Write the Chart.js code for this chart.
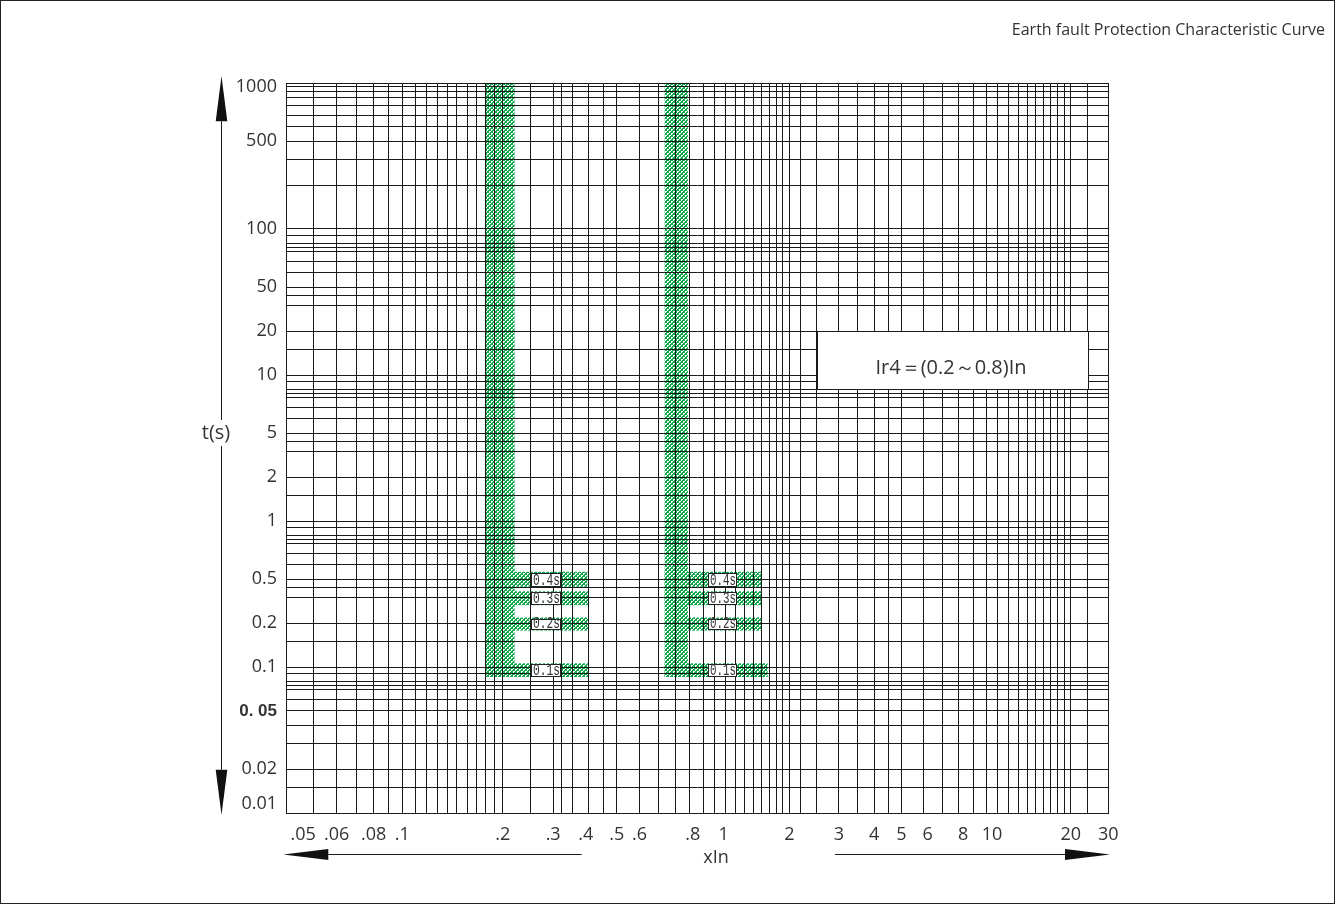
<!DOCTYPE html>
<html>
<head>
<meta charset="utf-8">
<script src="https://cdn.jsdelivr.net/npm/chart.js@4/dist/chart.umd.min.js"></script>
<style>
  html, body { margin: 0; padding: 0; background: #fff; }
  #wrap { position: relative; width: 1335px; height: 904px; }
  #frame { position: absolute; left: 0; top: 0; width: 1335px; height: 904px; box-sizing: border-box;
           border: 1px solid #222; pointer-events: none; }
  canvas { display: block; }
</style>
</head>
<body>
<div id="wrap"><canvas id="c" width="1335" height="904"></canvas><div id="frame"></div></div>
<script>
// ---------------- data ----------------
const xTickLabels   = ['.05', '.06', '.08', '.1', '.2', '.3', '.4', '.5', '.6', '.8', '1', '2', '3', '4', '5', '6', '8', '10', '20', '30'];
const xTickLabelAt  = [0.046, 0.06, 0.08, 0.1, 0.2, 0.3, 0.39, 0.5, 0.6, 0.92, 1.18, 2, 3, 4, 5, 6.2, 8.3, 10.5, 20, 30];
const xGridValues   = [0.04, 0.05, 0.06, 0.07, 0.08, 0.09, 0.1, 0.11, 0.12, 0.13, 0.14, 0.15, 0.16, 0.17, 0.18, 0.19,
                       0.2, 0.25, 0.3, 0.32, 0.35, 0.4, 0.45, 0.5, 0.6, 0.7, 0.8, 0.9,
                       1, 1.1, 1.2, 1.3, 1.4, 1.5, 1.6, 1.7, 1.8, 1.9,
                       2, 2.2, 2.5, 3, 3.5, 4, 4.5, 5, 6, 7, 8, 9,
                       10, 11, 12, 13, 14, 15, 16, 17, 18, 19, 20, 24, 30];
const yTickLabels   = ['1000', '500', '100', '50', '20', '10', '5', '2', '1', '0.5', '0.2', '0.1', '0. 05', '0.02', '0.01'];
const yTickLabelAt  = [940, 400, 100, 40, 20, 10, 4, 2, 1, 0.4, 0.2, 0.1, 0.05, 0.02, 0.0115];
const yBoldLabels   = ['0. 05'];
const yGridValues   = [0.01, 0.015, 0.02, 0.03, 0.04, 0.05, 0.06, 0.07, 0.075, 0.08, 0.09,
                       0.1, 0.15, 0.2, 0.3, 0.35, 0.4, 0.5, 0.6, 0.7, 0.75, 0.8, 0.9,
                       1, 1.5, 2, 3, 3.5, 4, 5, 6, 7, 7.5, 8, 9,
                       10, 15, 20, 30, 35, 40, 50, 60, 70, 75, 80, 90,
                       100, 200, 300, 400, 500, 600, 700, 800, 870, 940, 1000];

const bandCurrent       = [[0.18, 0.22], [0.735, 0.885]];          // Ir4 = 0.2 In and 0.8 In pickup bands (xIn)
const bandTimeMax       = 1000;                                     // s
const delayLabels       = ['0.4s', '0.3s', '0.2s', '0.1s'];
const delayTime         = [[0.355, 0.45], [0.265, 0.33], [0.178, 0.218], [0.0855, 0.106]];  // s
const delayCurrentEnd   = [[0.395, 0.4, 0.4, 0.4], [1.6, 1.6, 1.6, 1.68]];               // xIn
const delayLabelCurrent = [[0.252, 0.317], [1.04, 1.30]];                                  // xIn
const noteText    = 'Ir4＝(0.2～0.8)In';
const noteCurrent = [2.5, 24];
const noteTime    = [8, 20];
const chartTitle  = 'Earth fault Protection Characteristic Curve';
const xTitle = 'xIn';
const yTitle = 't(s)';

// ---------------- x scale calibration (the printed axis is not a uniform log scale) ----------------
const xAxisCalibration = {
  value: [0.04, 0.05, 0.1, 0.15, 0.2, 2, 20, 30],
  share: [0, 0.0332, 0.1414, 0.2076, 0.2635, 0.6121, 0.9543, 1]
};
function warp(v) {
  const V = xAxisCalibration.value, S = xAxisCalibration.share;
  let i = 0;
  while (i < V.length - 2 && v > V[i + 1]) i++;
  return S[i] + Math.log(v / V[i]) / Math.log(V[i + 1] / V[i]) * (S[i + 1] - S[i]);
}
function unwarp(d) {
  const V = xAxisCalibration.value, S = xAxisCalibration.share;
  let i = 0;
  while (i < S.length - 2 && d > S[i + 1]) i++;
  return V[i] * Math.pow(V[i + 1] / V[i], (d - S[i]) / (S[i + 1] - S[i]));
}
class WarpLogScale extends Chart.LogarithmicScale {
  getPixelForValue(value) {
    if (value === null || value === undefined || isNaN(value)) return NaN;
    return this.getPixelForDecimal(warp(value));
  }
  getValueForPixel(pixel) { return unwarp(this.getDecimalForPixel(pixel)); }
}
WarpLogScale.id = 'warpLog';
WarpLogScale.defaults = Chart.LogarithmicScale.defaults;
Chart.register(WarpLogScale);

function mergeTicks(gridVals, labelAt, labelText) {
  const m = new Map();
  gridVals.forEach(v => m.set(v, { value: v, grid: true, text: '' }));
  labelAt.forEach((v, i) => {
    const t = m.get(v) || { value: v, grid: false, text: '' };
    t.text = labelText[i];
    m.set(v, t);
  });
  return [...m.values()].sort((a, b) => a.value - b.value);
}

// ---------------- hatch pattern ----------------
const canvas = document.getElementById('c');
const ctx0 = canvas.getContext('2d');
function makeHatch() {
  const c = document.createElement('canvas');
  c.width = 4; c.height = 4;
  const g = c.getContext('2d');
  g.fillStyle = '#ffffff';
  g.fillRect(0, 0, 4, 4);
  g.fillStyle = '#0fa64c';
  [[0, 0], [1, 1], [2, 2], [3, 3], [3, 0], [2, 1], [1, 2], [0, 3], [2, 0], [0, 2]].forEach(([i, j]) => g.fillRect(i, j, 1, 1));
  return ctx0.createPattern(c, 'repeat');
}
const hatch = makeHatch();

function rect(x0, x1, t0, t1) {
  return {
    type: 'line',
    data: [{ x: x0, y: t0 }, { x: x1, y: t0 }, { x: x1, y: t1 }, { x: x0, y: t1 }, { x: x0, y: t0 }],
    fill: 'shape', backgroundColor: hatch, borderColor: 'rgba(0,0,0,0)', borderWidth: 0,
    pointRadius: 0, pointHoverRadius: 0, pointHitRadius: 0, tension: 0,
    xAxisID: 'x', yAxisID: 'y'
  };
}
const datasets = [];
bandCurrent.forEach((xr, b) => {
  datasets.push(rect(xr[0], xr[1], delayTime[delayTime.length - 1][0], bandTimeMax));
  delayTime.forEach((tr, k) => datasets.push(rect(xr[0], delayCurrentEnd[b][k], tr[0], tr[1])));
});

// ---------------- decorations ----------------
const TXT = '#333';
const LINE = '#1a1a1a';
const deco = {
  yArrowOffset: 65, yArrowTop: 6.7, yArrowBottom: 1.7, headLen: 45, headHalf: 5.8,
  xArrowDrop: 41, leftTipOffset: 2.7, leftArrowEnd: 295.7, rightArrowStart: 549, rightTipOffset: 1.7,
  yTitleOffsetX: 70, yTitleOffsetY: 350, xTitleOffsetX: 430, xTitleBaseline: 49.5
};
const annotate = {
  id: 'annotate',
  afterDraw(chart) {
    const { ctx, chartArea: a, scales: { x, y } } = chart;
    ctx.save();
    // note box
    const bx0 = Math.round(x.getPixelForValue(noteCurrent[0])) + 0.5;
    const bx1 = Math.round(x.getPixelForValue(noteCurrent[1])) + 0.5;
    const by0 = Math.round(y.getPixelForValue(noteTime[1])) + 0.5;
    const by1 = Math.round(y.getPixelForValue(noteTime[0])) + 0.5;
    ctx.fillStyle = '#fff';
    ctx.fillRect(bx0, by0, bx1 - bx0, by1 - by0);
    ctx.strokeStyle = LINE; ctx.lineWidth = 1;
    ctx.strokeRect(bx0, by0, bx1 - bx0, by1 - by0);
    ctx.fillStyle = TXT;
    ctx.font = '20px "Open Sans", sans-serif';
    ctx.textAlign = 'center'; ctx.textBaseline = 'alphabetic';
    ctx.fillText(noteText, (bx0 + bx1) / 2 - 2, (by0 + by1) / 2 + 13.5);

    // delay label boxes
    ctx.font = '16px "Liberation Mono", monospace';
    delayLabelCurrent.forEach((xr) => {
      const x0 = Math.round(x.getPixelForValue(xr[0])) + 0.5;
      const x1 = Math.round(x.getPixelForValue(xr[1])) + 0.5;
      delayTime.forEach((tr, k) => {
        const y0 = Math.round(y.getPixelForValue(tr[1])) + 1.5;
        const y1 = Math.round(y.getPixelForValue(tr[0])) - 0.5;
        ctx.fillStyle = '#fff';
        ctx.fillRect(x0, y0, x1 - x0, y1 - y0);
        ctx.strokeStyle = '#222'; ctx.lineWidth = 1;
        ctx.strokeRect(x0, y0, x1 - x0, y1 - y0);
        const txt = delayLabels[k];
        const w = ctx.measureText(txt).width;
        const sx = Math.min(1, (x1 - x0 - 2) / w);
        ctx.save();
        ctx.translate(x0 + 1.5, y1 - 1.5);
        ctx.scale(sx, 1);
        ctx.fillStyle = TXT; ctx.textAlign = 'left'; ctx.textBaseline = 'alphabetic';
        ctx.fillText(txt, 0, 0);
        ctx.restore();
      });
    });

    // y arrow
    const ax = a.left - deco.yArrowOffset + 0.5;
    const tTop = a.top - deco.yArrowTop, tBot = a.bottom + deco.yArrowBottom;
    ctx.strokeStyle = LINE; ctx.lineWidth = 1;
    ctx.beginPath(); ctx.moveTo(ax, tTop + deco.headLen); ctx.lineTo(ax, tBot - deco.headLen); ctx.stroke();
    ctx.fillStyle = '#111';
    ctx.beginPath(); ctx.moveTo(ax, tTop); ctx.lineTo(ax - deco.headHalf, tTop + deco.headLen); ctx.lineTo(ax + deco.headHalf, tTop + deco.headLen); ctx.closePath(); ctx.fill();
    ctx.beginPath(); ctx.moveTo(ax, tBot); ctx.lineTo(ax - deco.headHalf, tBot - deco.headLen); ctx.lineTo(ax + deco.headHalf, tBot - deco.headLen); ctx.closePath(); ctx.fill();
    // y title
    ctx.font = '20px "Open Sans", sans-serif';
    const ty = a.top + deco.yTitleOffsetY;
    const tx = a.left - deco.yTitleOffsetX;
    const tw = ctx.measureText(yTitle).width;
    ctx.fillStyle = '#fff';
    ctx.fillRect(tx - tw / 2 - 3, ty - 13, tw + 6, 26);
    ctx.fillStyle = TXT; ctx.textAlign = 'center'; ctx.textBaseline = 'middle';
    ctx.fillText(yTitle, tx, ty);

    // x arrows
    const ay = a.bottom + deco.xArrowDrop + 0.5;
    const lt = a.left - deco.leftTipOffset;
    const rt = a.right + deco.rightTipOffset;
    ctx.strokeStyle = LINE;
    ctx.beginPath(); ctx.moveTo(lt + deco.headLen, ay); ctx.lineTo(a.left + deco.leftArrowEnd, ay); ctx.stroke();
    ctx.beginPath(); ctx.moveTo(a.left + deco.rightArrowStart, ay); ctx.lineTo(rt - deco.headLen, ay); ctx.stroke();
    ctx.fillStyle = '#111';
    ctx.beginPath(); ctx.moveTo(lt, ay); ctx.lineTo(lt + deco.headLen, ay - 5.5); ctx.lineTo(lt + deco.headLen, ay + 5.5); ctx.closePath(); ctx.fill();
    ctx.beginPath(); ctx.moveTo(rt, ay); ctx.lineTo(rt - deco.headLen, ay - 5.5); ctx.lineTo(rt - deco.headLen, ay + 5.5); ctx.closePath(); ctx.fill();
    // x title
    ctx.font = '18px "Open Sans", sans-serif';
    ctx.fillStyle = TXT; ctx.textAlign = 'center'; ctx.textBaseline = 'alphabetic';
    ctx.fillText(xTitle, a.left + deco.xTitleOffsetX, a.bottom + deco.xTitleBaseline);
    ctx.restore();
  }
};

// ---------------- chart ----------------
Chart.defaults.font.family = "'Open Sans', sans-serif";
Chart.defaults.color = TXT;
const gridColor = (c) => (c.tick && c.tick.grid) ? LINE : 'rgba(0,0,0,0)';
const labelCallback = (v, i, t) => (t[i] && t[i].text) || '';

new Chart(ctx0, {
  type: 'line',
  data: { datasets },
  options: {
    responsive: false,
    devicePixelRatio: 1,
    animation: false,
    events: [],
    layout: { padding: { left: 0, right: 10, top: 0, bottom: 0 } },
    plugins: {
      legend: { display: false },
      tooltip: { enabled: false },
      title: {
        display: true, text: chartTitle, align: 'end', color: TXT,
        font: { family: "'Open Sans', sans-serif", size: 16, weight: 'normal', lineHeight: 1.125 },
        padding: { top: 21, bottom: 44 }
      }
    },
    scales: {
      x: {
        type: 'warpLog', min: 0.04, max: 30, bounds: 'data', position: 'bottom',
        afterBuildTicks: s => { s.ticks = mergeTicks(xGridValues, xTickLabelAt, xTickLabels); },
        afterFit: s => { s.height = 91; },
        grid: { color: gridColor, lineWidth: 1, drawTicks: false, z: 1 },
        border: { display: true, color: LINE, width: 1, z: 1 },
        ticks: { autoSkip: false, maxRotation: 0, minRotation: 0, padding: 11, color: TXT,
                 font: { family: "'Open Sans', sans-serif", size: 18 }, callback: labelCallback }
      },
      y: {
        type: 'logarithmic', min: 0.01, max: 1000, bounds: 'data', position: 'left',
        afterBuildTicks: s => { s.ticks = mergeTicks(yGridValues, yTickLabelAt, yTickLabels); },
        afterFit: s => { s.width = 286; },
        grid: { color: gridColor, lineWidth: 1, drawTicks: false, z: 1 },
        border: { display: true, color: LINE, width: 1, z: 1 },
        ticks: { autoSkip: false, padding: 9, color: TXT, callback: labelCallback,
                 font: (c) => (c.tick && yBoldLabels.includes(c.tick.text))
                   ? { family: "'Liberation Sans', Arial, sans-serif", size: 17, weight: 'bold' }
                   : { family: "'Open Sans', sans-serif", size: 18 } }
      },
      yR: {
        type: 'linear', position: 'right', display: true,
        grid: { display: false }, border: { display: false }, ticks: { display: false },
        afterFit: s => { s.width = 216.7; }
      }
    }
  },
  plugins: [annotate]
});
</script>
</body>
</html>
